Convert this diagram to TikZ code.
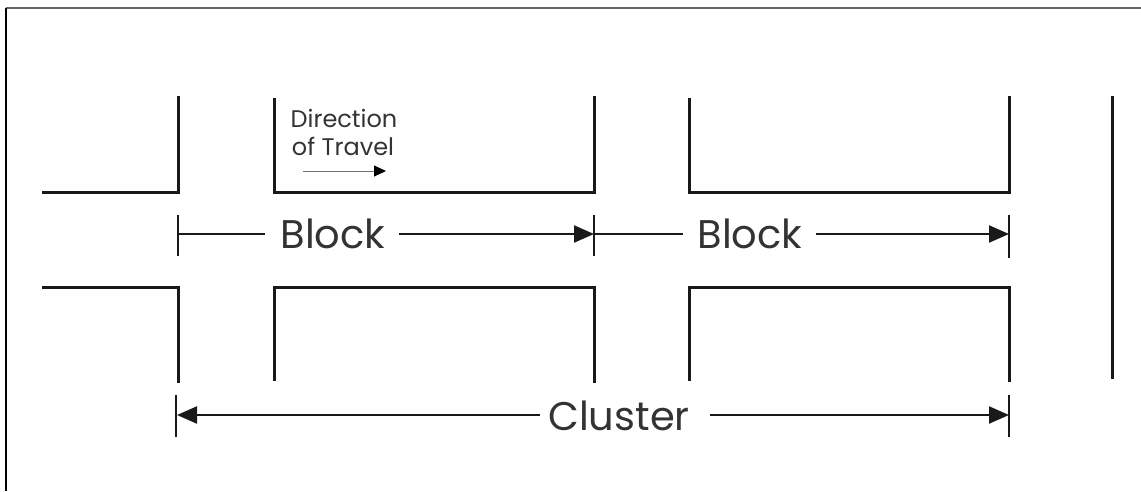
\documentclass[tikz,border=0pt]{standalone}
\usepackage{fontspec}
\setmainfont{Poppins}
\usetikzlibrary{arrows.meta}
\tikzset{
  street/.style={draw=black!90, line width=3pt, line cap=rect},
  dimline/.style={draw=black!90, line width=2.2pt},
  tick/.style={draw=black!90, line width=2.2pt},
  bigarrow/.style={dimline, -{Triangle[length=20pt,width=17pt]}},
  biglabel/.style={font=\fontsize{40}{40}\selectfont, text=black!80, inner sep=0pt, anchor=base},
  smalllabel/.style={font=\fontsize{24}{28}\selectfont, text=black!80, align=center, inner sep=0pt},
}
\begin{document}
\begin{tikzpicture}[x=1pt,y=-1pt]
\useasboundingbox (0,0) rectangle (1141,491);
% frame
\draw[black!60, line width=1.6pt] (6,8) -- (1141,8);
\draw[black, line width=2.2pt] (6,8) -- (6,491);
% upper streets
\draw[street] (43,192) -- (178,192) -- (178,97);
\draw[street] (274,99) -- (274,192) -- (594,192) -- (594,97);
\draw[street] (689,99) -- (689,192) -- (1009,192) -- (1009,97);
\draw[street] (1112,97) -- (1112,377);
% lower streets
\draw[street] (43,287) -- (178,287) -- (178,381);
\draw[street] (274,379) -- (274,287) -- (594,287) -- (594,381);
\draw[street] (689,379) -- (689,287) -- (1009,287) -- (1009,380);
% direction of travel
\node[smalllabel, anchor=base] (dir) at (344,127) {Direction};
\node[smalllabel, anchor=base] (trav) at (343,155) {of Travel};
\coordinate (ta) at (303,171);
\coordinate (tb) at (386,171);
\draw[black!55, line width=1pt, -{Triangle[length=12pt,width=11pt,color=black]}] (ta) -- (tb);
% block dimension
\coordinate (k1t) at (178,215); \coordinate (k1b) at (178,256);
\coordinate (k2t) at (594,215); \coordinate (k2b) at (594,256);
\coordinate (k3t) at (1009,215); \coordinate (k3b) at (1009,258);
\coordinate (k1) at (178,234); \coordinate (k2) at (594,234); \coordinate (k3) at (1009,234);
\draw[tick] (k1t) -- (k1b);
\draw[tick] (k2t) -- (k2b);
\draw[tick] (k3t) -- (k3b);
\node[biglabel] (b1) at (333,248) {Block};
\node[biglabel] (b2) at (750,248) {Block};
\coordinate (b1l) at (265,234); \coordinate (b1r) at (399,234);
\coordinate (b2l) at (683,234); \coordinate (b2r) at (816,234);
\draw[dimline] (k1) -- (b1l);
\draw[bigarrow] (b1r) -- (k2);
\draw[dimline] (k2) -- (b2l);
\draw[bigarrow] (b2r) -- (k3);
% cluster dimension
\coordinate (c1t) at (176,395); \coordinate (c1b) at (176,437);
\coordinate (c2t) at (1009,395); \coordinate (c2b) at (1009,437);
\coordinate (c1) at (177,415); \coordinate (c2) at (1009,415);
\draw[tick] (c1t) -- (c1b);
\draw[tick] (c2t) -- (c2b);
\node[biglabel] (cl) at (619,430) {Cluster};
\coordinate (cll) at (540,415); \coordinate (clr) at (710,415);
\draw[bigarrow] (cll) -- (c1);
\draw[bigarrow] (clr) -- (c2);
\end{tikzpicture}
\end{document}
